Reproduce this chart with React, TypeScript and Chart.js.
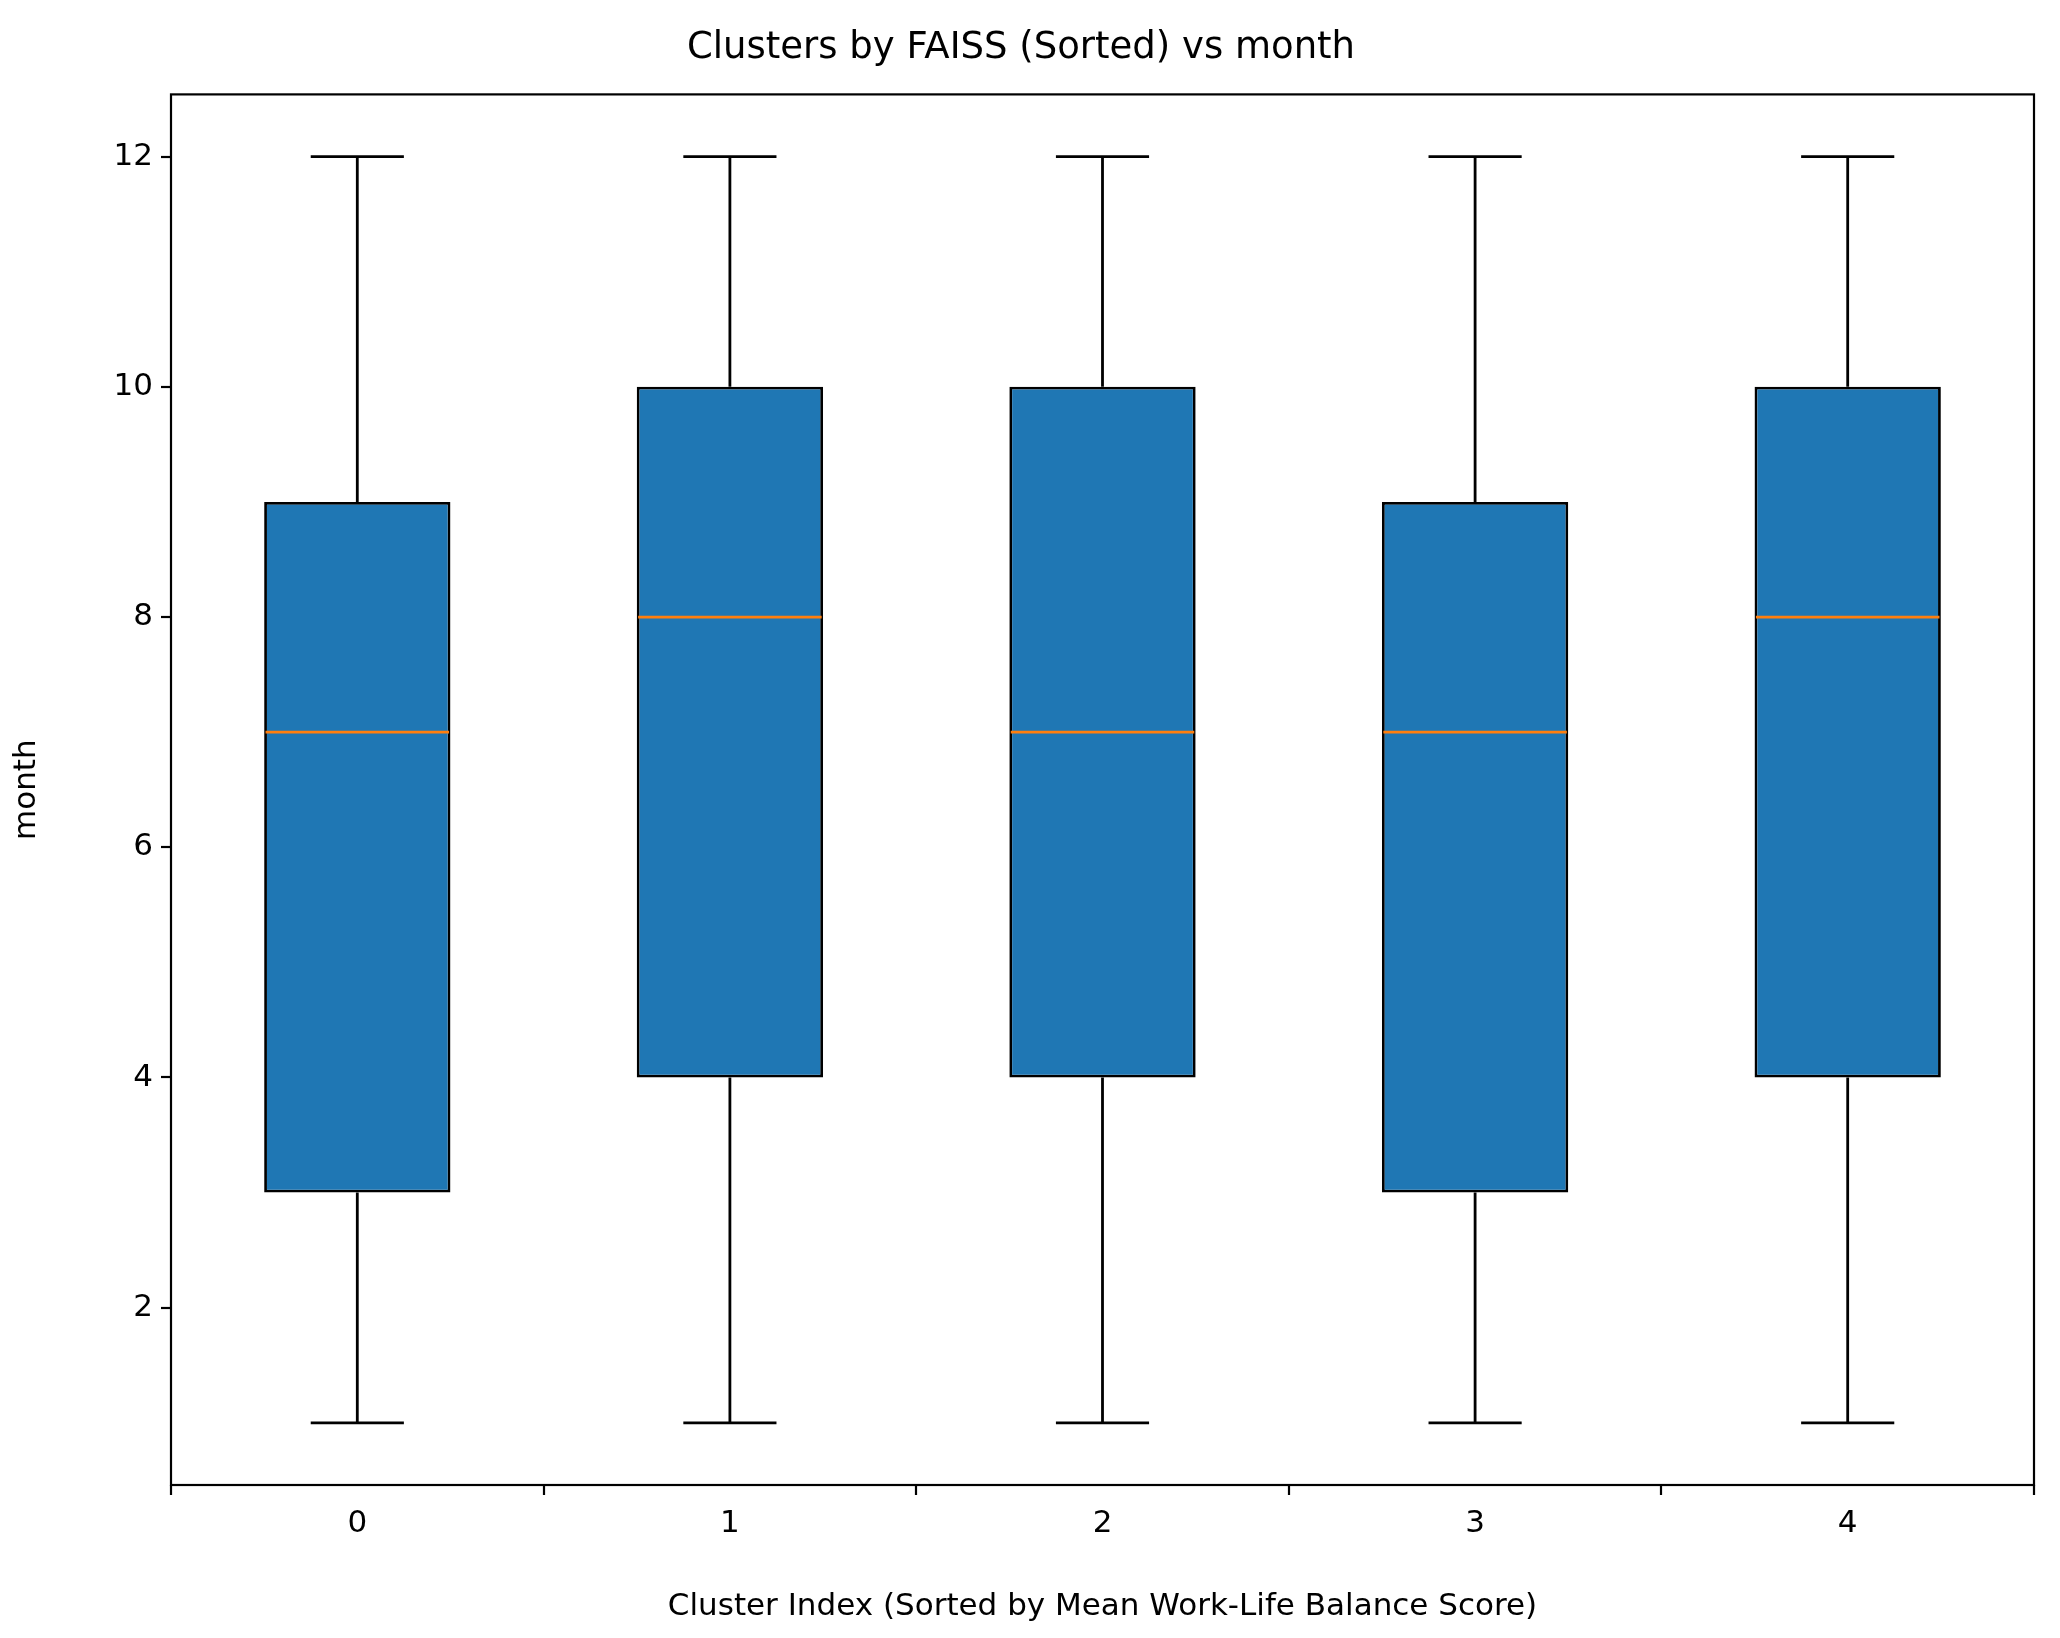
import { useEffect, useRef } from 'react';
import { Chart, registerables } from 'chart.js';

Chart.register(...registerables);

const clusters = ['0', '1', '2', '3', '4'];
const whiskerLow = [1, 1, 1, 1, 1];
const q1 = [3, 4, 4, 3, 4];
const median = [7, 8, 7, 7, 8];
const q3 = [9, 10, 10, 9, 10];
const whiskerHigh = [12, 12, 12, 12, 12];
const yTicks = [2, 4, 6, 8, 10, 12];

const font = 'DejaVu Sans';

const boxPlugin = {
  id: 'boxParts',
  afterDatasetsDraw(chart: any) {
    const { ctx, scales, chartArea } = chart;
    const x = scales.x;
    const y = scales.y;
    const unit = x.getPixelForValue(1) - x.getPixelForValue(0);
    ctx.save();
    ctx.strokeStyle = '#000';
    ctx.lineWidth = 2.8;
    clusters.forEach((_, i) => {
      const cx = x.getPixelForValue(i);
      const cap = unit * 0.125;
      const half = unit * 0.25;
      ctx.beginPath();
      ctx.moveTo(cx, y.getPixelForValue(q1[i]));
      ctx.lineTo(cx, y.getPixelForValue(whiskerLow[i]));
      ctx.moveTo(cx - cap, y.getPixelForValue(whiskerLow[i]));
      ctx.lineTo(cx + cap, y.getPixelForValue(whiskerLow[i]));
      ctx.moveTo(cx, y.getPixelForValue(q3[i]));
      ctx.lineTo(cx, y.getPixelForValue(whiskerHigh[i]));
      ctx.moveTo(cx - cap, y.getPixelForValue(whiskerHigh[i]));
      ctx.lineTo(cx + cap, y.getPixelForValue(whiskerHigh[i]));
      ctx.stroke();
      ctx.save();
      ctx.strokeStyle = '#ff7f0e';
      ctx.lineWidth = 2.8;
      ctx.beginPath();
      ctx.moveTo(cx - half + 1.4, y.getPixelForValue(median[i]));
      ctx.lineTo(cx + half - 1.4, y.getPixelForValue(median[i]));
      ctx.stroke();
      ctx.restore();
    });
    ctx.lineWidth = 2.2;
    ctx.strokeRect(chartArea.left, chartArea.top, chartArea.right - chartArea.left, chartArea.bottom - chartArea.top);
    ctx.restore();
  },
};

const tickGrid = {
  display: true,
  drawOnChartArea: false,
  drawTicks: true,
  tickLength: 10,
  tickWidth: 2.2,
  tickColor: '#000',
  lineWidth: 0,
} as any;

const App = () => {
  const ref = useRef<HTMLCanvasElement>(null);
  const chart = useRef<Chart>();

  useEffect(() => {
    if (ref.current) {
      chart.current = new Chart(ref.current, {
        type: 'bar',
        data: {
          labels: clusters,
          datasets: [
            {
              data: clusters.map((_, i) => [q1[i], q3[i]]),
              backgroundColor: '#1f77b4',
              borderColor: '#000',
              borderWidth: 2.8,
              borderSkipped: false,
              categoryPercentage: 1,
              barPercentage: 0.5,
            },
          ],
        },
        options: {
          animation: false,
          responsive: false,
          devicePixelRatio: 1,
          layout: { padding: { left: 0, right: 18, top: 0, bottom: 0 } },
          plugins: {
            legend: { display: false },
            tooltip: { enabled: false },
            title: {
              display: true,
              text: 'Clusters by FAISS (Sorted) vs month',
              color: '#000',
              font: { family: font, size: 37, weight: 'normal' },
              padding: { top: 18, bottom: 24 },
            },
          },
          scales: {
            x: {
              grid: tickGrid,
              border: { display: false },
              ticks: { color: '#000', font: { family: font, size: 31 }, padding: 10 },
              title: {
                display: true,
                text: 'Cluster Index (Sorted by Mean Work-Life Balance Score)',
                color: '#000',
                font: { family: font, size: 31 },
                padding: { top: 4 },
              },
              afterFit: (s: any) => { s.height = 145; },
            },
            y: {
              min: 0.46,
              max: 12.54,
              afterBuildTicks: (s: any) => { s.ticks = yTicks.map((v) => ({ value: v })); },
              grid: tickGrid,
              border: { display: false },
              ticks: { color: '#000', font: { family: font, size: 31 }, padding: 8 },
              title: {
                display: true,
                text: 'month',
                color: '#000',
                font: { family: font, size: 31 },
                padding: { top: 0, bottom: 0 },
              },
              afterFit: (s: any) => { s.width = 163; },
            },
          },
        },
        plugins: [boxPlugin],
      });
    }
    return () => {
      if (chart.current) chart.current.destroy();
    };
  }, []);

  return <div>
    <canvas ref={ref} width={2044} height={1622}></canvas>
  </div>;
};

export default App;
